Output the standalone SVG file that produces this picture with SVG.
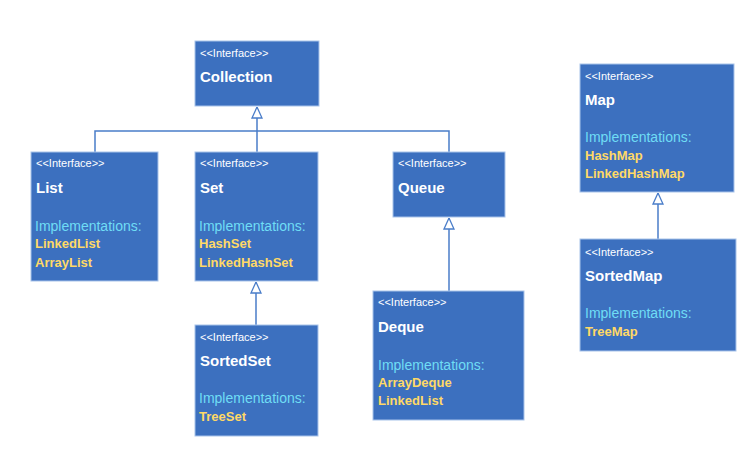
<svg xmlns="http://www.w3.org/2000/svg" width="753" height="462" viewBox="0 0 753 462">
  <style>
    .box { fill: #3C70BF; stroke: #A8C3EA; stroke-width: 1; }
    text { font-family: "Liberation Sans", Arial, sans-serif; }
    .stereo { fill: #FFFFFF; font-size: 11px; }
    .title { fill: #FFFFFF; font-size: 15px; font-weight: bold; }
    .impl { fill: #6FDDF5; font-size: 14px; }
    .cls { fill: #FFD966; font-size: 13px; font-weight: bold; }
    .edge { fill: none; stroke: #4A7DC9; stroke-width: 1.5; }
  </style>
  <defs>
    <marker id="inherit" viewBox="0 0 12 12" refX="11.5" refY="6" markerWidth="12" markerHeight="12" markerUnits="userSpaceOnUse" orient="auto">
      <path d="M0.5,1 L11.5,6 L0.5,11 Z" fill="#FFFFFF" stroke="#4A7DC9" stroke-width="1.3"/>
    </marker>
  </defs>
  <rect width="753" height="462" fill="#FFFFFF"/>

  <g id="connectors">
    <path class="edge" d="M95,152 V131 H449 V152"/>
    <path class="edge" d="M257,152 V107" marker-end="url(#inherit)"/>
    <path class="edge" d="M256,325 V282" marker-end="url(#inherit)"/>
    <path class="edge" d="M449,291 V218" marker-end="url(#inherit)"/>
    <path class="edge" d="M658,239 V193" marker-end="url(#inherit)"/>
  </g>

  <g id="collection">
    <rect class="box" x="195" y="41" width="124" height="65"/>
    <text class="stereo" x="200" y="57">&lt;&lt;Interface&gt;&gt;</text>
    <text class="title" x="200" y="82">Collection</text>
  </g>

  <g id="list">
    <rect class="box" x="31" y="152" width="127" height="129"/>
    <text class="stereo" x="36" y="167">&lt;&lt;Interface&gt;&gt;</text>
    <text class="title" x="36" y="193">List</text>
    <text class="impl" x="35" y="231">Implementations:</text>
    <text class="cls" x="35" y="248">LinkedList</text>
    <text class="cls" x="35" y="267">ArrayList</text>
  </g>

  <g id="set">
    <rect class="box" x="195" y="152" width="123" height="129"/>
    <text class="stereo" x="200" y="167">&lt;&lt;Interface&gt;&gt;</text>
    <text class="title" x="200" y="193">Set</text>
    <text class="impl" x="199" y="231">Implementations:</text>
    <text class="cls" x="199" y="248">HashSet</text>
    <text class="cls" x="199" y="267">LinkedHashSet</text>
  </g>

  <g id="queue">
    <rect class="box" x="393" y="152" width="112" height="65"/>
    <text class="stereo" x="398" y="167">&lt;&lt;Interface&gt;&gt;</text>
    <text class="title" x="398" y="193">Queue</text>
  </g>

  <g id="sortedset">
    <rect class="box" x="195" y="325" width="123" height="111"/>
    <text class="stereo" x="200" y="341">&lt;&lt;Interface&gt;&gt;</text>
    <text class="title" x="200" y="366">SortedSet</text>
    <text class="impl" x="199" y="403">Implementations:</text>
    <text class="cls" x="199" y="421">TreeSet</text>
  </g>

  <g id="deque">
    <rect class="box" x="373" y="291" width="151" height="129"/>
    <text class="stereo" x="378" y="306">&lt;&lt;Interface&gt;&gt;</text>
    <text class="title" x="378" y="332">Deque</text>
    <text class="impl" x="378" y="370">Implementations:</text>
    <text class="cls" x="378" y="387">ArrayDeque</text>
    <text class="cls" x="378" y="405">LinkedList</text>
  </g>

  <g id="map">
    <rect class="box" x="580" y="64" width="154" height="128"/>
    <text class="stereo" x="585" y="80">&lt;&lt;Interface&gt;&gt;</text>
    <text class="title" x="585" y="105">Map</text>
    <text class="impl" x="585" y="142">Implementations:</text>
    <text class="cls" x="585" y="160">HashMap</text>
    <text class="cls" x="585" y="178">LinkedHashMap</text>
  </g>

  <g id="sortedmap">
    <rect class="box" x="580" y="239" width="156" height="112"/>
    <text class="stereo" x="585" y="256">&lt;&lt;Interface&gt;&gt;</text>
    <text class="title" x="585" y="281">SortedMap</text>
    <text class="impl" x="585" y="318">Implementations:</text>
    <text class="cls" x="585" y="336">TreeMap</text>
  </g>
</svg>
